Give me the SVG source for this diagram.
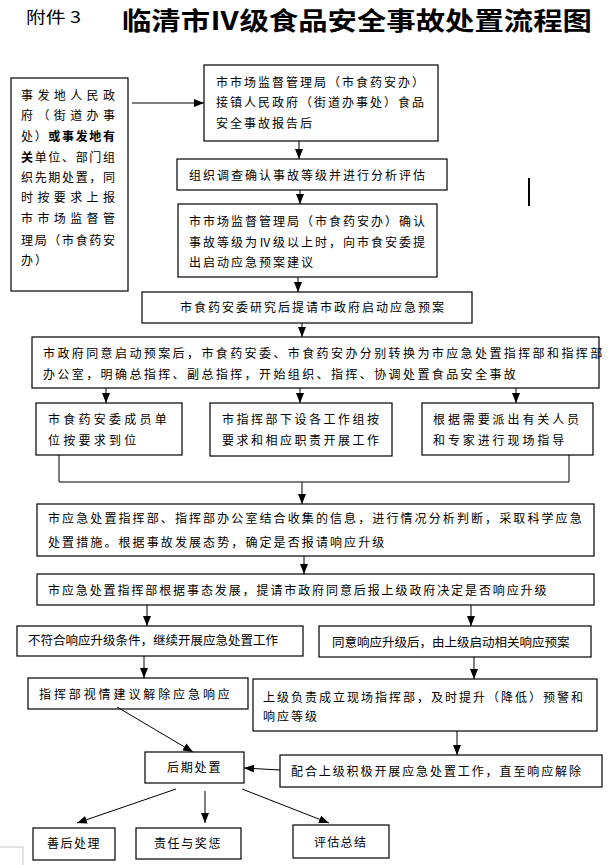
<svg xmlns="http://www.w3.org/2000/svg" width="613" height="865" viewBox="0 0 613 865">
<defs>
<style>
.box{fill:#fff;stroke:#000;stroke-width:1.2}
.t{font-family:"Noto Sans CJK SC","Noto Sans",sans-serif;font-size:12px;fill:#000;letter-spacing:2px}
.n{font-family:"Noto Sans CJK SC","Noto Sans",sans-serif;font-size:12.5px;fill:#000;letter-spacing:0}
.c{fill:none;stroke:#000;stroke-width:1}
.a{fill:none;stroke:#000;stroke-width:1;marker-end:url(#ah)}
.b{font-weight:bold}
</style>
<marker id="ah" markerUnits="userSpaceOnUse" markerWidth="10" markerHeight="8" refX="10" refY="4" orient="auto">
<path d="M0,0 L10,4 L0,8 z" fill="#000"/>
</marker>
</defs>
<rect width="613" height="865" fill="#fff"/>

<g id="header">
<text x="26" y="23" font-family="'Noto Sans CJK SC','Noto Sans',sans-serif" font-size="16" textLength="55" lengthAdjust="spacingAndGlyphs">附件 3</text>
<text x="122" y="29.5" font-family="'Noto Sans CJK SC',serif" font-size="25" font-weight="bold" textLength="470" lengthAdjust="spacingAndGlyphs">临清市Ⅳ级食品安全事故处置流程图</text>
</g>

<g id="mark"><line x1="529" y1="178" x2="529" y2="206" stroke="#000" stroke-width="2"/></g>

<g id="n-local">
<rect class="box" x="11" y="78" width="117" height="213"/>
<text class="t" x="21" y="99.5" textLength="96" lengthAdjust="spacing">事发地人民政</text>
<text class="t" x="21" y="119.5" textLength="96" lengthAdjust="spacing">府（街道办事</text>
<text class="t" x="21" y="140.5" textLength="96" lengthAdjust="spacing">处）<tspan class="b">或事发地有</tspan></text>
<text class="t" x="21" y="161.5" textLength="96" lengthAdjust="spacing"><tspan class="b">关</tspan>单位、部门组</text>
<text class="t" x="21" y="181.5" textLength="96" lengthAdjust="spacing">织先期处置，同</text>
<text class="t" x="21" y="201.5" textLength="96" lengthAdjust="spacing">时按要求上报</text>
<text class="t" x="21" y="222.5" textLength="96" lengthAdjust="spacing">市市场监督管</text>
<text class="t" x="21" y="244.5" textLength="96" lengthAdjust="spacing">理局（市食药安</text>
<text class="t" x="21" y="264.5">办）</text>
</g>

<g id="n-receive">
<rect class="box" x="204" y="65" width="234" height="76"/>
<text class="t" x="216" y="86.5">市市场监督管理局（市食药安办）</text>
<text class="t" x="216" y="106.5">接镇人民政府（街道办事处）食品</text>
<text class="t" x="216" y="127.5">安全事故报告后</text>
</g>

<g id="n-investigate">
<rect class="box" x="177" y="159" width="270" height="31"/>
<text class="t" x="189" y="179.5">组织调查确认事故等级并进行分析评估</text>
</g>

<g id="n-confirm">
<rect class="box" x="178" y="204" width="259" height="73"/>
<text class="t" x="189" y="225.5">市市场监督管理局（市食药安办）确认</text>
<text class="t" x="189" y="246.5">事故等级为Ⅳ级以上时，向市食安委提</text>
<text class="t" x="189" y="266.5">出启动应急预案建议</text>
</g>

<g id="n-committee">
<rect class="box" x="142" y="292" width="330" height="31"/>
<text class="t" x="180" y="311.5">市食药安委研究后提请市政府启动应急预案</text>
</g>

<g id="n-start">
<rect class="box" x="32" y="337" width="567" height="51"/>
<text class="t" x="43" y="357.5" style="letter-spacing:2.4px">市政府同意启动预案后，市食药安委、市食药安办分别转换为市应急处置指挥部和指挥部</text>
<text class="t" x="43" y="378.5" style="letter-spacing:2.4px">办公室，明确总指挥、副总指挥，开始组织、指挥、协调处置食品安全事故</text>
</g>

<g id="n-members">
<rect class="box" x="36" y="403" width="146" height="52"/>
<text class="t" x="48" y="423.5" style="letter-spacing:3.25px">市食药安委成员单</text>
<text class="t" x="48" y="444.5" style="letter-spacing:3.25px">位按要求到位</text>
</g>

<g id="n-groups">
<rect class="box" x="210" y="403" width="182" height="53"/>
<text class="t" x="222" y="423.5" style="letter-spacing:2.5px">市指挥部下设各工作组按</text>
<text class="t" x="222" y="444.5" style="letter-spacing:2.5px">要求和相应职责开展工作</text>
</g>

<g id="n-experts">
<rect class="box" x="422" y="403" width="171" height="52"/>
<text class="t" x="433" y="423.5" style="letter-spacing:2.9px">根据需要派出有关人员</text>
<text class="t" x="433" y="444.5" style="letter-spacing:2.9px">和专家进行现场指导</text>
</g>

<g id="n-analyse">
<rect class="box" x="37" y="504" width="557" height="52"/>
<text class="t" x="48" y="522.5" style="letter-spacing:2.1px">市应急处置指挥部、指挥部办公室结合收集的信息，进行情况分析判断，采取科学应急</text>
<text class="t" x="48" y="546.5" style="letter-spacing:2.1px">处置措施。根据事故发展态势，确定是否报请响应升级</text>
</g>

<g id="n-escalate">
<rect class="box" x="37" y="574" width="557" height="31"/>
<text class="t" x="48" y="594.5" style="letter-spacing:1.9px">市应急处置指挥部根据事态发展，提请市政府同意后报上级政府决定是否响应升级</text>
</g>

<g id="n-continue">
<rect class="box" x="17" y="626" width="286" height="30"/>
<text class="n" x="28" y="645">不符合响应升级条件，继续开展应急处置工作</text>
</g>

<g id="n-upgrade">
<rect class="box" x="319" y="626" width="272" height="31"/>
<text class="n" x="332" y="646.5">同意响应升级后，由上级启动相关响应预案</text>
</g>

<g id="n-lift">
<rect class="box" x="28" y="678" width="220" height="31"/>
<text class="t" x="39" y="698.5" style="letter-spacing:2.9px">指挥部视情建议解除应急响应</text>
</g>

<g id="n-upper">
<rect class="box" x="253" y="679" width="344" height="52"/>
<text class="t" x="263" y="701.5">上级负责成立现场指挥部，及时提升（降低）预警和</text>
<text class="t" x="263" y="720.5">响应等级</text>
</g>

<g id="n-after">
<rect class="box" x="145" y="752" width="99" height="31"/>
<text class="t" x="167" y="771.5" style="letter-spacing:1.8px">后期处置</text>
</g>

<g id="n-cooperate">
<rect class="box" x="280" y="755" width="322" height="32"/>
<text class="t" x="291" y="776" style="letter-spacing:1.9px">配合上级积极开展应急处置工作，直至响应解除</text>
</g>

<g id="n-aftermath">
<rect class="box" x="33" y="828" width="82" height="32"/>
<text class="t" x="47" y="847.5" style="letter-spacing:1.5px">善后处理</text>
</g>

<g id="n-duty">
<rect class="box" x="136" y="828" width="105" height="31"/>
<text class="t" x="154" y="847.5" style="letter-spacing:1.6px">责任与奖惩</text>
</g>

<g id="n-review">
<rect class="box" x="293" y="825" width="96" height="33"/>
<text class="t" x="314" y="846.5" style="letter-spacing:1.3px">评估总结</text>
</g>

<g id="connectors">
<line class="a" x1="132" y1="103" x2="204" y2="103"/>
<line class="a" x1="299" y1="141" x2="299" y2="159"/>
<line class="a" x1="300" y1="190" x2="300" y2="204"/>
<line class="a" x1="298" y1="277" x2="298" y2="292"/>
<line class="a" x1="302" y1="323" x2="302" y2="337"/>
<line class="a" x1="106" y1="388" x2="106" y2="403"/>
<line class="a" x1="300" y1="388" x2="300" y2="403"/>
<line class="a" x1="516" y1="388" x2="516" y2="403"/>
<polyline class="c" points="59,455 59,482 569,482 569,455"/>
<line class="a" x1="302" y1="482" x2="302" y2="504"/>
<line class="a" x1="304" y1="556" x2="304" y2="574"/>
<line class="a" x1="147" y1="605" x2="147" y2="626"/>
<line class="a" x1="471" y1="605" x2="471" y2="626"/>
<line class="a" x1="144" y1="656" x2="144" y2="678"/>
<line class="a" x1="474" y1="657" x2="474" y2="679"/>
<line class="a" x1="457" y1="731" x2="457" y2="755"/>
<line class="a" x1="117" y1="707" x2="193" y2="752"/>
<line class="a" x1="280" y1="770" x2="244" y2="768"/>
<line class="a" x1="176" y1="789" x2="77" y2="823"/>
<line class="a" x1="205" y1="791" x2="205" y2="823"/>
<line class="a" x1="242" y1="789" x2="329" y2="823"/>
</g>

<g id="page-corner">
<polyline points="0,847 23,847 23,865" fill="none" stroke="#c8c8c8" stroke-width="1"/>
</g>
</svg>
